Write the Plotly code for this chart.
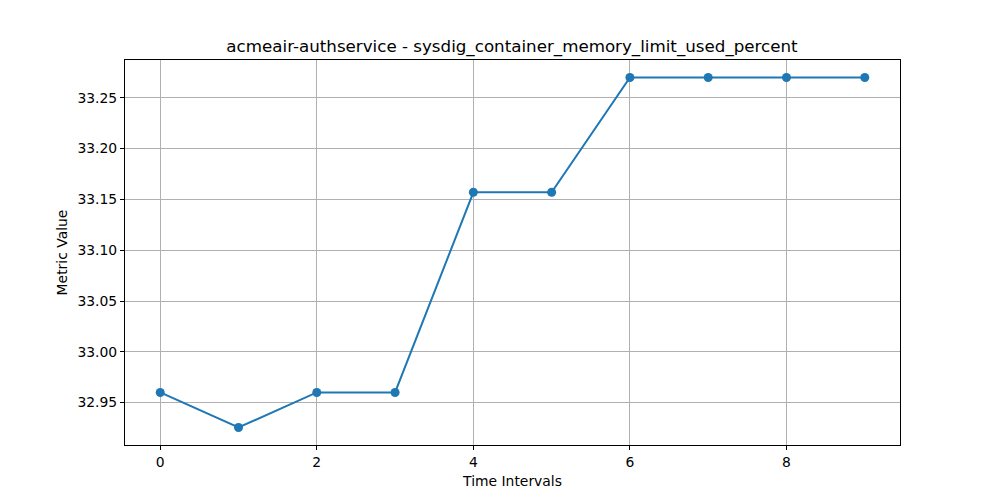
import plotly.graph_objects as go

intervals = [0, 1, 2, 3, 4, 5, 6, 7, 8, 9]
values = [32.960, 32.9255, 32.960, 32.960, 33.157, 33.157, 33.270, 33.270, 33.270, 33.270]
x_ticks = [0, 2, 4, 6, 8]
y_ticks = [32.95, 33.00, 33.05, 33.10, 33.15, 33.20, 33.25]
y_tick_labels = ["32.95", "33.00", "33.05", "33.10", "33.15", "33.20", "33.25"]

blue = "#1f77b4"
font = "DejaVu Sans, Verdana, sans-serif"

fig = go.Figure()
fig.add_trace(go.Scatter(
    x=intervals, y=values, mode="lines+markers",
    line=dict(color=blue, width=2),
    marker=dict(color=blue, size=9),
    showlegend=False,
))

span = max(values) - min(values)
fig.update_layout(
    width=1000, height=500,
    margin=dict(l=117, r=108, t=52, b=63),
    paper_bgcolor="white", plot_bgcolor="white",
    font=dict(family=font, size=13.9, color="black"),
    title=dict(text="acmeair-authservice - sysdig_container_memory_limit_used_percent",
               x=0.504, xanchor="center", y=1 - 38 / 500, yanchor="middle",
               font=dict(size=16.7, family=font, color="black")),
    xaxis=dict(
        range=[-0.45, 9.45], tickvals=x_ticks, ticks="outside", ticklen=4,
        tickcolor="black", showgrid=True, gridcolor="#b0b0b0", gridwidth=1,
        zeroline=False, showline=True, linecolor="black", linewidth=1, mirror=True,
        title=dict(text="Time Intervals", font=dict(size=13.9), standoff=7),
    ),
    yaxis=dict(
        range=[min(values) - 0.05 * span, max(values) + 0.05 * span],
        tickvals=y_ticks, ticktext=y_tick_labels, ticks="outside", ticklen=4,
        tickcolor="black", showgrid=True, gridcolor="#b0b0b0", gridwidth=1,
        zeroline=False, showline=True, linecolor="black", linewidth=1, mirror=True,
        title=dict(text="Metric Value", font=dict(size=13.9), standoff=6),
    ),
)

fig.write_html("out.html")
